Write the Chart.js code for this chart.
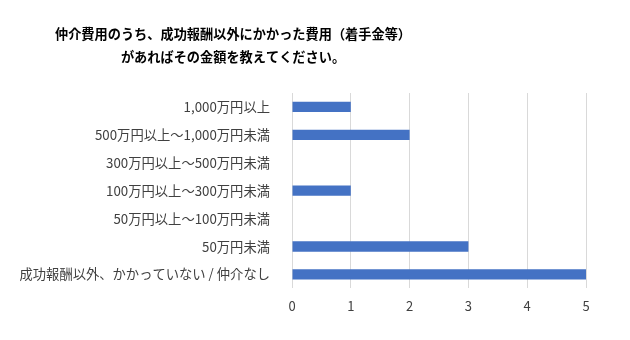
<!DOCTYPE html>
<html>
<head>
<meta charset="utf-8">
<script src="https://cdn.jsdelivr.net/npm/chart.js@4"></script>
<style>
  body { margin: 0; background: #fff; }
  #wrap { width: 630px; height: 340px; }
</style>
</head>
<body>
<div id="wrap"><canvas id="feeChart"></canvas></div>
<script>
// data
var titleLines = ['仲介費用のうち、成功報酬以外にかかった費用（着手金等）', 'があればその金額を教えてください。'];
var categories = ['1,000万円以上', '500万円以上〜1,000万円未満', '300万円以上〜500万円未満', '100万円以上〜300万円未満', '50万円以上〜100万円未満', '50万円未満', '成功報酬以外、かかっていない / 仲介なし'];
var counts = [1, 2, 0, 1, 0, 3, 5];
var xTicks = [0, 1, 2, 3, 4, 5];

var fontName = '"Noto Sans CJK JP", "Noto Sans", sans-serif';

// title is centred off to the left, so draw it by hand
var titlePlugin = {
  id: 'leftTitle',
  afterDraw: function(chart) {
    var ctx = chart.ctx;
    ctx.save();
    ctx.fillStyle = '#000';
    ctx.font = 'bold 13.2px ' + fontName;
    ctx.textAlign = 'center';
    ctx.textBaseline = 'middle';
    ctx.fillText(titleLines[0], 233, 34);
    ctx.fillText(titleLines[1], 233, 57);
    ctx.restore();
  }
};

var ctx = document.getElementById('feeChart').getContext('2d');
var myChart = new Chart(ctx, {
  type: 'bar',
  data: {
    labels: categories,
    datasets: [{
      data: counts,
      backgroundColor: '#4472C4',
      borderWidth: 0,
      barPercentage: 0.37,
      categoryPercentage: 1
    }]
  },
  options: {
    indexAxis: 'y',
    responsive: true,
    maintainAspectRatio: false,
    animation: false,
    layout: { padding: { top: 93, right: 44, bottom: 16, left: 0 } },
    plugins: {
      legend: { display: false },
      tooltip: { enabled: false }
    },
    scales: {
      x: {
        min: 0,
        max: 5,
        afterBuildTicks: function(scale) {
          scale.ticks = xTicks.map(function(v) { return { value: v }; });
        },
        grid: { color: '#d9d9d9', drawTicks: false },
        border: { display: false },
        ticks: { color: '#404040', padding: 10, font: { family: fontName, size: 13 } }
      },
      y: {
        afterFit: function(scale) { scale.width = 292; },
        grid: { display: false },
        border: { display: false },
        ticks: { color: '#404040', padding: 14, font: { family: fontName, size: 13.3 } }
      }
    }
  },
  plugins: [titlePlugin]
});
</script>
</body>
</html>
